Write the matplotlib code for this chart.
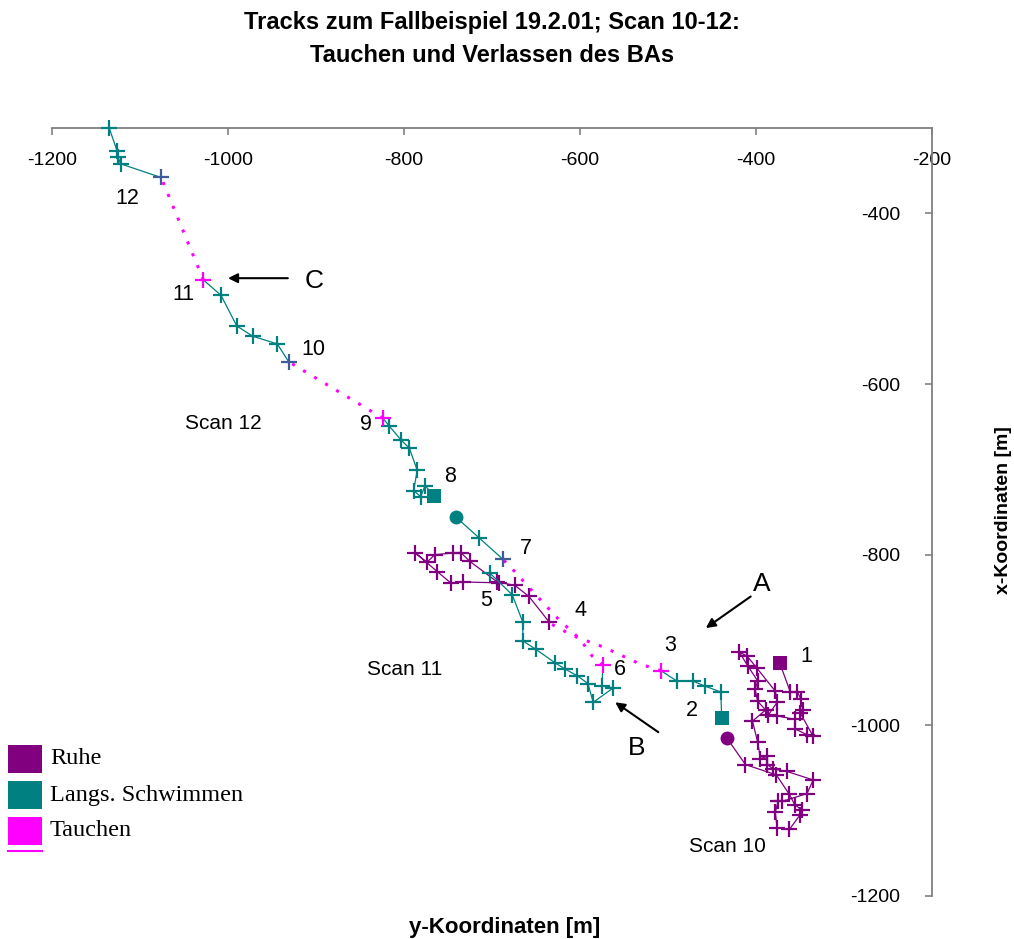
import matplotlib
matplotlib.use("Agg")
import matplotlib.pyplot as plt
from matplotlib.patches import Rectangle

plt.rcParams['font.family'] = ['Liberation Sans', 'DejaVu Sans']
plt.rcParams['axes.unicode_minus'] = False

PURPLE = '#800080'
TEAL = '#008080'
MAGENTA = '#ff00ff'
BLUE = '#3d5c99'

# Scan 10 - Ruhe (start = square, end = circle)
rest10_x = [-373, -361, -353, -349, -347, -350, -335, -342, -356, -356, -376, -386, -376,
            -378, -399, -410, -419, -409, -398, -401, -398, -389, -404, -398, -395, -387,
            -387, -381, -365, -335, -342, -370, -375, -378, -376, -362, -350, -348, -356,
            -362, -377, -412, -433]
rest10_y = [-927, -961, -961, -969, -982, -985, -1013, -1011, -1004, -993, -989, -988, -973,
            -960, -933, -919, -914, -931, -948, -958, -972, -982, -995, -1020, -1039, -1036,
            -1046, -1051, -1054, -1064, -1080, -1089, -1089, -1102, -1120, -1122, -1105, -1099,
            -1093, -1081, -1058, -1046, -1015]

# Scan 10 - Langs. Schwimmen (2 -> 3)
swim10_x = [-439, -440, -458, -472, -490, -508]
swim10_y = [-991, -961, -954, -948, -948, -936]

# Tauchen 3 -> 4
dive34_x = [-508, -532, -574, -608, -635]
dive34_y = [-936, -928, -908, -895, -880]

# Scan 11 - Ruhe (4 -> 5)
rest11_x = [-635, -658, -674, -694, -725, -735, -744, -765, -774, -787, -762, -747, -733, -692]
rest11_y = [-879, -849, -836, -832, -808, -798, -798, -800, -809, -798, -820, -833, -832, -833]

# Scan 11 - Langs. Schwimmen (5 -> 6)
swim11_x = [-702, -677, -665, -665, -650, -628, -617, -603, -591, -585, -562, -575, -574]
swim11_y = [-822, -847, -879, -901, -911, -927, -934, -942, -951, -973, -956, -954, -929]

# Tauchen 6 -> 7
dive67_x = [-574, -586, -600, -625, -653, -674, -688]
dive67_y = [-929, -919, -899, -875, -844, -820, -805]

# Scan 11 - Langs. Schwimmen (7 -> end)
swim11b_x = [-688, -715, -741]
swim11b_y = [-805, -780, -756]

# Scan 12 - Langs. Schwimmen (8 -> 9)
swim12_x = [-766, -776, -781, -789, -785, -794, -803, -817, -824]
swim12_y = [-731, -719, -732, -725, -701, -675, -666, -649, -640]

# Tauchen 9 -> 10
dive910_x = [-824, -931]
dive910_y = [-640, -574]

# Scan 12 - Langs. Schwimmen (10 -> 11)
swim12b_x = [-931, -944, -972, -990, -1008, -1028]
swim12b_y = [-574, -553, -544, -532, -496, -478]

# Tauchen 11 -> 12
dive1112_x = [-1028, -1076]
dive1112_y = [-478, -358]

# Scan 12 - Langs. Schwimmen (12 -> ...)
swim12c_x = [-1076, -1122, -1125, -1126, -1135]
swim12c_y = [-358, -342, -334, -327, -300]

point_labels = ['1', '2', '3', '4', '5', '6', '7', '8', '9', '10', '11', '12']
label_x = [-343, -473, -498, -599, -707, -555, -662, -748, -843, -903, -1051, -1114]
label_y = [-919, -983, -907, -866, -854, -934, -793, -708, -647, -560, -495, -383]

scan_labels = ['Scan 12', 'Scan 11', 'Scan 10']
scan_x = [-1005, -799, -432]
scan_y = [-646, -934, -1142]

legend_labels = ['Ruhe', 'Langs. Schwimmen', 'Tauchen']
legend_colors = [PURPLE, TEAL, MAGENTA]

W, H = 1014, 939
fig = plt.figure(figsize=(W / 100, H / 100), dpi=100)
ax = fig.add_axes([52 / W, 43 / H, 880 / W, 768 / H])
ax.set_xlim(-1200, -200)
ax.set_ylim(-1200, -300)

MS = 11
MEW = 1.6
LW = 0.9


def track(xs, ys, color, inner=True):
    idx = list(range(1, len(xs) - 1)) if inner else list(range(len(xs)))
    ax.plot(xs, ys, color=color, lw=LW, marker='+', ms=MS, mew=MEW,
            markevery=idx, clip_on=False, zorder=3)


def dive(xs, ys):
    ax.plot(xs, ys, color=MAGENTA, lw=2.2, linestyle=(0, (1, 3.2)),
            dash_capstyle='butt', zorder=2)


def point(x, y, color, marker='+', ms=MS):
    if marker == '+':
        ax.plot(x, y, marker='+', color=color, ms=ms, mew=MEW, zorder=5, clip_on=False)
    else:
        ax.plot(x, y, marker=marker, color=color, ms=ms, mew=0, zorder=5)


# Scan 10
track(rest10_x, rest10_y, PURPLE)
point(rest10_x[0], rest10_y[0], PURPLE, 's', 10)
point(rest10_x[-1], rest10_y[-1], PURPLE, 'o', 10)
track(swim10_x, swim10_y, TEAL)
point(swim10_x[0], swim10_y[0], TEAL, 's', 10)
dive(dive34_x, dive34_y)
point(swim10_x[-1], swim10_y[-1], MAGENTA)

# Scan 11
track(rest11_x, rest11_y, PURPLE, inner=False)
track(swim11_x, swim11_y, TEAL)
point(swim11_x[0], swim11_y[0], TEAL)
dive(dive67_x, dive67_y)
point(swim11_x[-1], swim11_y[-1], MAGENTA)
track(swim11b_x, swim11b_y, TEAL)
point(swim11b_x[0], swim11b_y[0], BLUE)
point(swim11b_x[-1], swim11b_y[-1], TEAL, 'o', 10)

# Scan 12
track(swim12_x, swim12_y, TEAL)
point(swim12_x[0], swim12_y[0], TEAL, 's', 10)
dive(dive910_x, dive910_y)
point(swim12_x[-1], swim12_y[-1], MAGENTA)
track(swim12b_x, swim12b_y, TEAL)
dive(dive1112_x, dive1112_y)
point(swim12b_x[0], swim12b_y[0], BLUE)
point(swim12b_x[-1], swim12b_y[-1], MAGENTA)
track(swim12c_x, swim12c_y, TEAL)
point(swim12c_x[0], swim12c_y[0], BLUE)
point(swim12c_x[-1], swim12c_y[-1], TEAL)

for t, x, y in zip(point_labels, label_x, label_y):
    ax.text(x, y, t, fontsize=15.5, ha='center', va='center')
for t, x, y in zip(scan_labels, scan_x, scan_y):
    ax.text(x, y, t, fontsize=15, ha='center', va='center')

# Markierungen A, B, C
arrow = dict(arrowstyle='-|>', color='black', lw=1.5, mutation_scale=14, shrinkA=0, shrinkB=0)
ax.annotate('', xy=(-1000, -476), xytext=(-932, -476), arrowprops=arrow)
ax.text(-902, -479, 'C', fontsize=19, ha='center', va='center')
ax.annotate('', xy=(-457, -886), xytext=(-406, -849), arrowprops=arrow)
ax.text(-394, -834, 'A', fontsize=19, ha='center', va='center')
ax.annotate('', xy=(-560, -973), xytext=(-511, -1008), arrowprops=arrow)
ax.text(-536, -1026, 'B', fontsize=19, ha='center', va='center')

# axes: x axis along the top, y axis along the right edge
AXC = '#808080'
ax.spines['top'].set_visible(False)
ax.spines['right'].set_visible(False)
ax.spines['bottom'].set_position(('axes', 1.0))
ax.spines['left'].set_position(('axes', 1.0))
for s in ('bottom', 'left'):
    ax.spines[s].set_color(AXC)
    ax.spines[s].set_linewidth(1.3)
ax.set_xticks(range(-1200, -199, 200))
ax.set_yticks(range(-1200, -399, 200))
ax.tick_params(axis='x', direction='out', length=5, width=1.2, color=AXC, pad=12, labelsize=14)
ax.tick_params(axis='y', direction='out', length=5, width=1.2, color=AXC, pad=18, labelsize=14)
ax.set_facecolor('none')

fig.text(492 / W, 1 - 23 / H, 'Tracks zum Fallbeispiel 19.2.01; Scan 10-12:',
         fontsize=17, fontweight='bold', ha='center', va='center')
fig.text(492 / W, 1 - 56 / H, 'Tauchen und Verlassen des BAs',
         fontsize=17, fontweight='bold', ha='center', va='center')
fig.text(505 / W, 1 - 928 / H, 'y-Koordinaten [m]', fontsize=16, fontweight='bold',
         ha='center', va='center')
fig.text(1003 / W, 1 - 510 / H, 'x-Koordinaten [m]', fontsize=14, fontweight='bold',
         ha='center', va='center', rotation=90)

# Legende
for i, (lab, col) in enumerate(zip(legend_labels, legend_colors)):
    top = 745 + 36 * i
    fig.add_artist(Rectangle((8 / W, 1 - (top + 28) / H), 34 / W, 28 / H,
                             transform=fig.transFigure, color=col, lw=0))
    fig.text(50 / W, 1 - (top + 14) / H, lab, fontsize=17.5, family='Liberation Serif',
             ha='left', va='center')
fig.add_artist(plt.Line2D([8 / W, 42 / W], [1 - 851 / H, 1 - 851 / H],
                          transform=fig.transFigure, color=MAGENTA, lw=1.5))

fig.savefig('out.png', dpi=100)
